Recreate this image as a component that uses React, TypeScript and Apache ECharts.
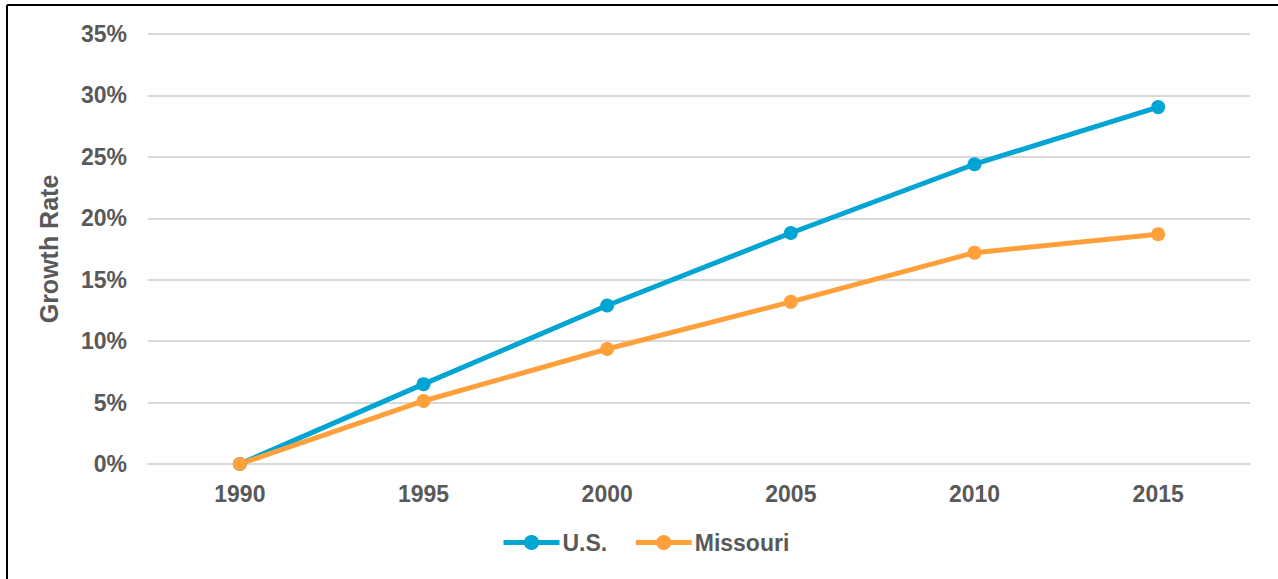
import React, { useEffect, useRef } from "react";
import * as echarts from "echarts";

const years = ["1990", "1995", "2000", "2005", "2010", "2015"];
const usValues = [0, 6.5, 12.9, 18.8, 24.4, 29.05];
const missouriValues = [0, 5.13, 9.36, 13.2, 17.2, 18.7];

export default function App() {
  const ref = useRef<HTMLDivElement>(null);
  useEffect(() => {
    document.body.style.margin = "0";
    const chart = echarts.init(ref.current!, null, { renderer: "svg" });
    const textColor = "#595959";
    const font = "'Liberation Sans', Arial, sans-serif";
    chart.setOption({
      animation: false,
      backgroundColor: "#ffffff",
      textStyle: { fontFamily: font },
      grid: { left: 148, right: 28, top: 34, bottom: 115, containLabel: false },
      legend: {
        bottom: 20,
        left: 496,
        itemWidth: 56,
        itemHeight: 19,
        itemGap: 26,
        lineStyle: { width: 5 },
        textStyle: { color: textColor, fontSize: 23, fontWeight: "bold", fontFamily: font, padding: [0, 0, 0, -2] },
        data: ["U.S.", "Missouri"],
      },
      xAxis: {
        type: "category",
        data: years,
        boundaryGap: true,
        axisLine: { lineStyle: { color: "#d9d9d9", width: 2 } },
        axisTick: { show: false },
        axisLabel: { color: textColor, fontSize: 23, fontWeight: "bold", margin: 18, fontFamily: font },
      },
      yAxis: {
        type: "value",
        min: 0,
        max: 35,
        interval: 5,
        name: "Growth Rate",
        nameLocation: "middle",
        nameGap: 87,
        nameTextStyle: { color: textColor, fontSize: 25, fontWeight: "bold", fontFamily: font },
        axisLine: { show: false },
        axisTick: { show: false },
        splitLine: { lineStyle: { color: "#d9d9d9", width: 2 } },
        axisLabel: {
          color: textColor,
          fontSize: 23,
          fontWeight: "bold",
          margin: 21,
          fontFamily: font,
          formatter: (v: number) => v + "%",
        },
      },
      series: [
        {
          name: "U.S.",
          type: "line",
          data: usValues,
          symbol: "circle",
          symbolSize: 14,
          lineStyle: { color: "#00A5D3", width: 5 },
          itemStyle: { color: "#00A5D3" },
        },
        {
          name: "Missouri",
          type: "line",
          data: missouriValues,
          symbol: "circle",
          symbolSize: 14,
          lineStyle: { color: "#FFA03A", width: 5 },
          itemStyle: { color: "#FFA03A" },
        },
      ],
      graphic: [
        { type: "line", shape: { x1: 7, y1: 5, x2: 1278, y2: 5 }, style: { stroke: "#000", lineWidth: 2 } },
        { type: "line", shape: { x1: 7, y1: 5, x2: 7, y2: 579 }, style: { stroke: "#000", lineWidth: 2 } },
      ],
    });
    return () => chart.dispose();
  }, []);
  return <div ref={ref} style={{ position: "absolute", left: 0, top: 0, width: 1278, height: 579 }} />;
}
